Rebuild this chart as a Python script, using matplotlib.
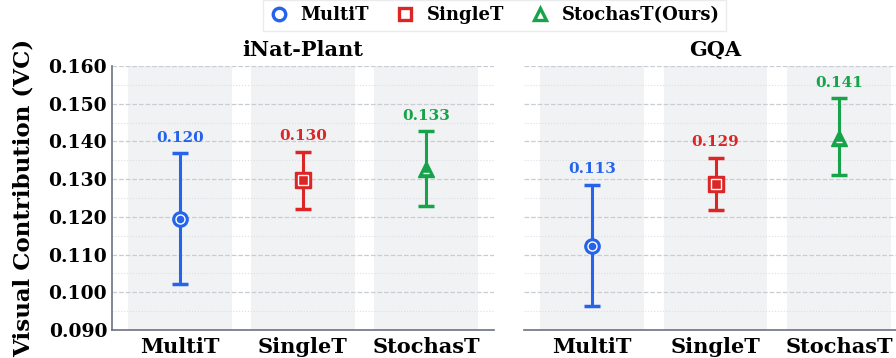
import matplotlib.pyplot as plt
from matplotlib.path import Path
import numpy as np

# data
methods = ["MultiT", "SingleT", "StochasT"]
legend_names = ["MultiT", "SingleT", "StochasT(Ours)"]
datasets = ["iNat-Plant", "GQA"]

inat_mean = [0.1195, 0.1297, 0.1327]
inat_low = [0.1023, 0.1220, 0.1229]
inat_high = [0.1369, 0.1373, 0.1428]
inat_label = ["0.120", "0.130", "0.133"]

gqa_mean = [0.1124, 0.1286, 0.1408]
gqa_low = [0.0964, 0.1217, 0.1310]
gqa_high = [0.1285, 0.1357, 0.1515]
gqa_label = ["0.113", "0.129", "0.141"]

colors = ["#2563eb", "#dc2626", "#16a34a"]
markers = ["o", "s", "^"]

# inner white highlight: ring for circle/square, short bar for triangle
tri_bar = Path([(0, 1), (-0.35, -0.55), (0.35, -0.55)],
               [Path.MOVETO, Path.MOVETO, Path.LINETO])
inner = ["o", "s", tri_bar]
inner_ms = [6.5, 6.5, 11]

plt.rcParams['font.family'] = 'DejaVu Serif'
plt.rcParams['font.weight'] = 'bold'

fig = plt.figure(figsize=(8.96, 3.58), dpi=100)
ax1 = fig.add_axes([0.125, 0.0782, 0.4263, 0.7374])
ax2 = fig.add_axes([0.5848, 0.0782, 0.4275, 0.7374], sharey=ax1)

panels = [
    (ax1, datasets[0], inat_mean, inat_low, inat_high, inat_label),
    (ax2, datasets[1], gqa_mean, gqa_low, gqa_high, gqa_label),
]

x = np.arange(len(methods))

for ax, title, mean, low, high, labels in panels:
    # gray band behind each method
    for i in x:
        ax.axvspan(i - 0.42, i + 0.42, color="#f1f2f4", zorder=0, lw=0)

    for i in x:
        err = [[mean[i] - low[i]], [high[i] - mean[i]]]
        ax.errorbar(x[i], mean[i], yerr=err, fmt="none", ecolor=colors[i],
                    elinewidth=2.2, capsize=6, capthick=2.5, zorder=3)
        ax.plot(x[i], mean[i], marker=markers[i], ms=11, color=colors[i],
                mec=colors[i], zorder=4)
        ax.plot(x[i], mean[i], marker=inner[i], ms=inner_ms[i], mfc="none",
                mec="white", mew=1.0, zorder=5)
        ax.annotate(labels[i], (x[i], high[i]), xytext=(0, 6),
                    textcoords="offset points", ha="center", va="bottom",
                    color=colors[i], fontsize=11, fontweight="bold")

    ax.set_xlim(-0.55, 2.55)
    ax.set_ylim(0.090, 0.160)
    ax.set_yticks(np.arange(0.090, 0.1601, 0.010))
    ax.set_yticks(np.arange(0.095, 0.160, 0.010), minor=True)
    ax.yaxis.set_major_formatter(plt.FormatStrFormatter("%.3f"))
    ax.set_xticks(x)
    ax.set_xticklabels(methods, fontsize=15, fontweight="bold")
    ax.grid(axis="y", which="major", ls="--", color="#c9ccd3", lw=0.9, zorder=1)
    ax.grid(axis="y", which="minor", ls=":", color="#dcdee3", lw=0.8, zorder=1)
    ax.set_axisbelow(True)
    ax.set_title(title, fontsize=15, fontweight="bold", pad=7)
    ax.tick_params(axis="x", length=0, pad=5)
    ax.tick_params(axis="y", which="both", length=0, labelsize=13.5)
    for s in ["top", "right"]:
        ax.spines[s].set_visible(False)
    ax.spines["bottom"].set_color("#6b7280")
    ax.spines["bottom"].set_linewidth(1.2)
    ax.spines["left"].set_color("#6b7280")
    ax.spines["left"].set_linewidth(1.2)

for lab in ax1.get_yticklabels():
    lab.set_fontweight("bold")
ax2.spines["left"].set_visible(False)
ax2.tick_params(axis="y", labelleft=False)
ax1.set_ylabel("Visual Contribution (VC)", fontsize=16.5, fontweight="bold",
               labelpad=10)

handles = [plt.Line2D([], [], ls="none", marker=markers[i], ms=9, mfc="white",
                      mec=colors[i], mew=2.4) for i in range(3)]
fig.legend(handles, legend_names, loc="upper center", ncol=3,
           bbox_to_anchor=(0.552, 1.025), frameon=True, fancybox=False,
           edgecolor="#e5e7eb", prop={"weight": "bold", "size": 13},
           handlelength=1.0, handletextpad=0.7, columnspacing=1.5,
           borderpad=0.35)

fig.savefig("out.png", dpi=100)
